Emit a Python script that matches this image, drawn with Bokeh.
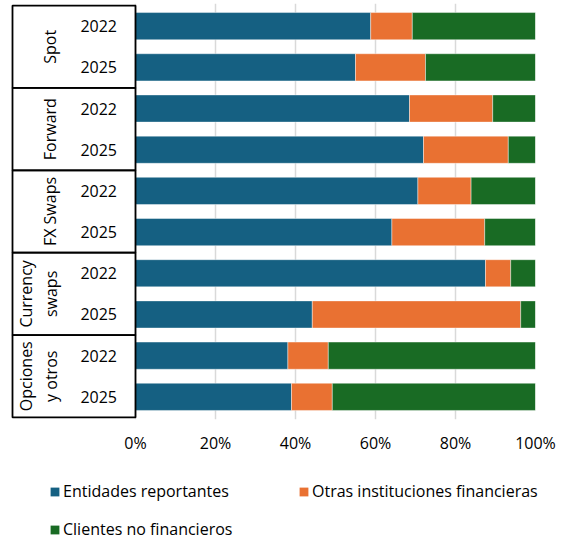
import math
from bokeh.plotting import figure
from bokeh.models import (FactorRange, Range1d, FixedTicker, PrintfTickFormatter,
                          Legend, LegendItem, ColumnDataSource)
from bokeh.core.properties import value
from bokeh.embed import file_html
from bokeh.resources import INLINE

# ---- data ----
groups = ["Spot", "Forward", "FX Swaps", "Currency\nswaps", "Opciones\ny otros"]
years = ["2022", "2025"]
entidades = [58.8, 55.0, 68.5, 72.0, 70.6, 64.1, 87.5, 44.2, 38.1, 39.0]
otras = [10.4, 17.5, 20.8, 21.2, 13.3, 23.2, 6.3, 52.1, 10.1, 10.2]
clientes = [30.8, 27.5, 10.7, 6.8, 16.1, 12.7, 6.2, 3.7, 51.8, 50.8]
series_names = ["Entidades reportantes", "Otras instituciones financieras",
                "Clientes no financieros"]
colors = ["#156082", "#E97132", "#196B24"]
x_ticks = [0, 20, 40, 60, 80, 100]

FONT = "Open Sans"
W = 558

factors = [(g, y) for g in groups for y in years]
source = ColumnDataSource(dict(
    cat=factors,
    ent=entidades,
    otr=otras,
    cli=clientes,
    year=[f[1] for f in factors],
))

y_range = FactorRange(*list(reversed(factors)), group_padding=0, factor_padding=0,
                      range_padding=0.05, range_padding_units="absolute")

p = figure(y_range=y_range, x_range=Range1d(-31.25, 100),
           frame_width=525, frame_height=416,
           min_border_left=10, min_border_right=23, min_border_top=3,
           min_border_bottom=36,
           y_axis_location=None, output_backend="svg", toolbar_location=None,
           background_fill_color="white", border_fill_color="white",
           outline_line_color=None)

# grid
p.xgrid.ticker = FixedTicker(ticks=x_ticks)
p.xgrid.grid_line_color = "#d9d9d9"
p.xgrid.grid_line_width = 1.5
p.ygrid.grid_line_color = None

# bars
rs = p.hbar_stack(["ent", "otr", "cli"], y="cat", height=0.66, color=colors,
                  line_color="white", line_width=0.6, line_alpha=0.7,
                  source=source)

# category boxes (group frames)
p.hbar(y=groups, left=-30.75, right=0, height=2, fill_color=None,
       line_color="black", line_width=1.8)

# year labels
p.text(x=-9.2, y="cat", text="year", source=source, text_align="center",
       text_baseline="middle", text_font=value(FONT), text_font_size="16px",
       text_color="black")

# group labels (rotated)
gx = [-24.3 if "\n" in g else -21.5 for g in groups]
p.text(x=gx, y=groups, text=groups, angle=math.pi / 2, text_align="center",
       text_baseline="middle", text_font=value(FONT), text_font_size="16px",
       text_color="black", text_line_height=1.15)

# x axis
xa = p.xaxis[0]
xa.ticker = FixedTicker(ticks=x_ticks)
xa.formatter = PrintfTickFormatter(format="%d%%")
xa.axis_line_color = None
xa.major_tick_line_color = None
xa.minor_tick_line_color = None
xa.major_tick_out = 0
xa.major_tick_in = 0
xa.major_label_standoff = 12
xa.major_label_text_font = FONT
xa.major_label_text_font_size = "16px"
xa.major_label_text_color = "black"

# ---- legend in its own strip below ----
LH = 85
pl = figure(width=W, height=LH, x_range=Range1d(0, W), y_range=Range1d(0, LH),
            min_border_left=0, min_border_right=0, min_border_top=0,
            min_border_bottom=0, x_axis_location=None, y_axis_location=None,
            output_backend="svg", toolbar_location=None,
            background_fill_color="white", border_fill_color="white",
            outline_line_color=None)
pl.xgrid.visible = False
pl.ygrid.visible = False
# invisible proxies that carry the series colours for the legend swatches
proxy_src = ColumnDataSource(dict(x=[0], top=[0]))
swatches = [pl.vbar(x="x", top="top", width=1, fill_color=c, line_color=None,
                    source=proxy_src, visible=False) for c in colors]

legend = Legend(
    items=[LegendItem(label=n, renderers=[r]) for n, r in zip(series_names, swatches)],
    orientation="horizontal", ncols=2, location=(49, 1), margin=0, padding=0,
    glyph_width=11, glyph_height=11, label_standoff=3, label_width=219,
    spacing=16, border_line_color=None, background_fill_alpha=0,
    inactive_fill_alpha=0,
    label_text_font=FONT, label_text_font_size="16px", label_text_color="black",
)
pl.add_layout(legend, "center")

open("out.html", "w").write(file_html([p, pl], INLINE))
